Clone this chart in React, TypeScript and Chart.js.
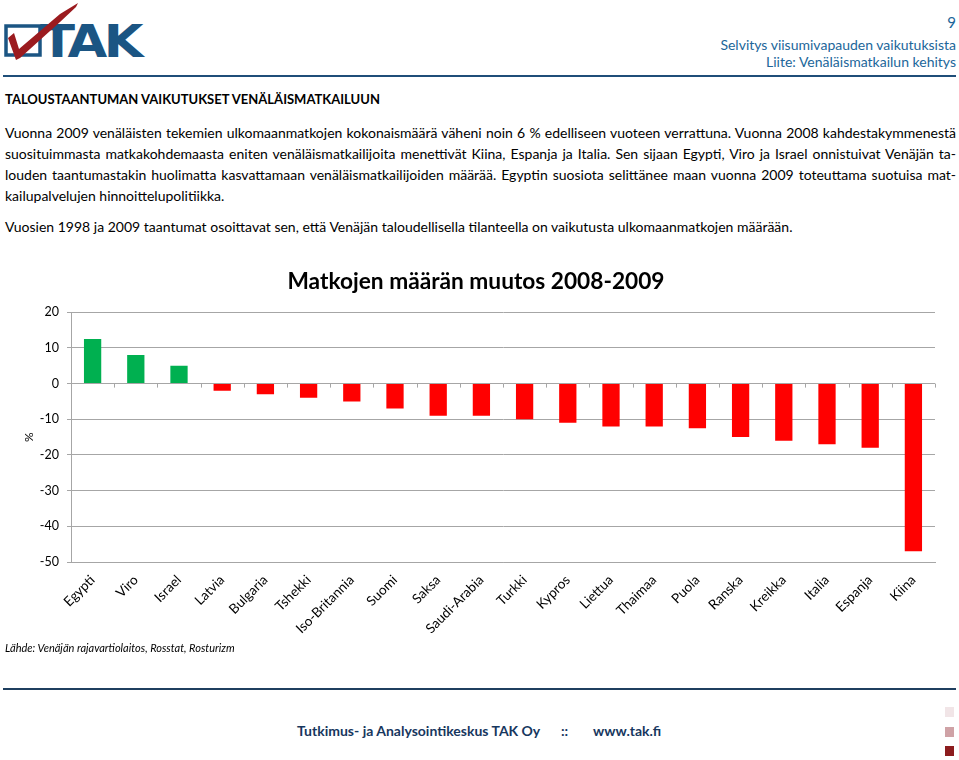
import React, { useEffect, useRef } from "react";
import { Chart, registerables } from "chart.js";

Chart.register(...registerables);

const categories = [
  "Egypti", "Viro", "Israel", "Latvia", "Bulgaria", "Tshekki", "Iso-Britannia",
  "Suomi", "Saksa", "Saudi-Arabia", "Turkki", "Kypros", "Liettua", "Thaimaa",
  "Puola", "Ranska", "Kreikka", "Italia", "Espanja", "Kiina",
];
const changes = [12.5, 8, 5, -2, -3, -4, -5, -7, -9, -9, -10, -11, -12, -12, -12.5, -15, -16, -17, -18, -47];
const yTicks = [20, 10, 0, -10, -20, -30, -40, -50];

const chartTitle = "Matkojen määrän muutos 2008-2009";
const yTitle = "%";

const bodyLines1 = [
  "Vuonna 2009 venäläisten tekemien ulkomaanmatkojen kokonaismäärä väheni noin 6 % edelliseen vuoteen verrattuna. Vuonna 2008 kahdestakymmenestä",
  "suosituimmasta matkakohdemaasta eniten venäläismatkailijoita menettivät Kiina, Espanja ja Italia. Sen sijaan Egypti, Viro ja Israel onnistuivat Venäjän ta-",
  "louden taantumastakin huolimatta kasvattamaan venäläismatkailijoiden määrää. Egyptin suosiota selittänee maan vuonna 2009 toteuttama suotuisa mat-",
];
const bodyLast1 = "kailupalvelujen hinnoittelupolitiikka.";
const body2 = "Vuosien 1998 ja 2009 taantumat osoittavat sen, että Venäjän taloudellisella tilanteella on vaikutusta ulkomaanmatkojen määrään.";

const FONT = "Lato, 'Open Sans', sans-serif";

const zeroTicksPlugin = {
  id: "zeroTicks",
  afterDatasetsDraw(chart: any) {
    const x = chart.scales.x;
    const y = chart.scales.y;
    const ctx = chart.ctx;
    const y0 = y.getPixelForValue(0);
    const n = chart.data.labels.length;
    const step = (x.right - x.left) / n;
    ctx.save();
    ctx.strokeStyle = "#a6a6a6";
    ctx.lineWidth = 1;
    ctx.beginPath();
    for (let i = 0; i <= n; i++) {
      const px = Math.round(x.left + i * step) + 0.5;
      ctx.moveTo(px, y0);
      ctx.lineTo(px, y0 + 4);
    }
    ctx.stroke();
    ctx.restore();
  },
};

function BarChart() {
  const ref = useRef<HTMLCanvasElement>(null);
  useEffect(() => {
    if (!ref.current) return;
    const chart = new Chart(ref.current, {
      type: "bar",
      data: {
        labels: categories,
        datasets: [
          {
            data: changes,
            backgroundColor: changes.map((v) => (v >= 0 ? "#00b050" : "#ff0000")),
            categoryPercentage: 1,
            barPercentage: 0.4,
          },
        ],
      },
      options: {
        animation: false,
        responsive: false,
        layout: { padding: { left: 0, right: 7, top: 0, bottom: 0 } },
        plugins: {
          legend: { display: false },
          tooltip: { enabled: false },
          title: {
            display: true,
            text: chartTitle,
            color: "#000",
            font: { family: FONT, size: 22.7, weight: "bold" },
            padding: { top: 18, bottom: 17 },
          },
        },
        scales: {
          x: {
            grid: { display: true, drawOnChartArea: false, drawTicks: false },
            border: { display: true, color: "#a6a6a6" },
            ticks: {
              color: "#000",
              font: { family: FONT, size: 13.5 },
              minRotation: 45,
              maxRotation: 45,
              padding: 10,
              autoSkip: false,
            },
            afterFit: (s: any) => {
              s.height = 78;
            },
          },
          y: {
            min: -50,
            max: 20,
            afterBuildTicks: (s: any) => {
              s.ticks = yTicks.map((v) => ({ value: v }));
            },
            grid: { color: "#a6a6a6", tickLength: 4 },
            border: { display: true, color: "#a6a6a6" },
            ticks: {
              color: "#000",
              font: { family: FONT, size: 12.5 },
              padding: 8,
            },
            title: {
              display: true,
              text: yTitle,
              color: "#000",
              font: { family: FONT, size: 12 },
              padding: { top: 22, bottom: 0 },
            },
            afterFit: (s: any) => {
              s.width = 71;
            },
          },
          ySpacer: {
            position: "right",
            min: -50,
            max: 20,
            grid: { display: false, drawTicks: false },
            border: { display: false },
            ticks: { display: false },
            afterFit: (s: any) => {
              s.width = 17;
            },
          },
        },
      },
      plugins: [zeroTicksPlugin],
    });
    return () => chart.destroy();
  }, []);
  return (
    <canvas
      ref={ref}
      width={959}
      height={390}
      style={{ position: "absolute", left: 0, top: 250, width: 959, height: 390 }}
    />
  );
}

function Logo() {
  return (
    <svg width={150} height={70} style={{ position: "absolute", left: 0, top: 0 }}>
      <rect x={6} y={26} width={34} height={29} fill="none" stroke="#1b5583" strokeWidth={3.5} />
      <text
        x={40}
        y={57}
        fill="#1b5583"
        fontFamily="'DejaVu Sans', sans-serif"
        fontWeight="bold"
        fontSize={44}
        letterSpacing={-3}
        textLength={100}
        lengthAdjust="spacingAndGlyphs"
      >
        TAK
      </text>
      <path d="M8 38 L14 33 L19 49 L60 14 L78 3 L76 7 L60 22 L20 58 L16 60 Z" fill="#9b1b1f" />
    </svg>
  );
}

export default function App() {
  const lineStyle: React.CSSProperties = {
    position: "absolute",
    left: 5,
    width: 951,
    whiteSpace: "nowrap",
    textAlign: "justify",
    textAlignLast: "justify" as any,
    fontSize: 14,
    lineHeight: "20px",
    fontFamily: FONT,
    color: "#000",
  };
  const hdr: React.CSSProperties = {
    position: "absolute",
    right: 3,
    fontSize: 14,
    lineHeight: "20px",
    color: "#21669a",
  };
  const foot: React.CSSProperties = {
    position: "absolute",
    top: 721,
    fontSize: 14,
    fontWeight: "bold",
    lineHeight: "20px",
    color: "#17375e",
  };
  return (
    <div
      style={{
        position: "absolute",
        left: 0,
        top: 0,
        width: 959,
        height: 760,
        background: "#fff",
        overflow: "hidden",
        fontFamily: FONT,
      }}
    >
      <Logo />
      <div style={{ ...hdr, top: 12, fontSize: 15 }}>9</div>
      <div style={{ ...hdr, top: 35 }}>Selvitys viisumivapauden vaikutuksista</div>
      <div style={{ ...hdr, top: 52 }}>Liite: Venäläismatkailun kehitys</div>
      <div style={{ position: "absolute", left: 3, top: 75, width: 953, height: 2, background: "#1f4e79" }} />
      <div style={{ position: "absolute", left: 5, top: 89, fontSize: 13, fontWeight: "bold", lineHeight: "20px" }}>
        TALOUSTAANTUMAN VAIKUTUKSET VENÄLÄISMATKAILUUN
      </div>
      {bodyLines1.map((l, i) => (
        <div key={i} style={{ ...lineStyle, top: 123 + i * 21 }}>
          {l}
        </div>
      ))}
      <div style={{ ...lineStyle, top: 123 + 3 * 21, textAlign: "left", textAlignLast: "left" as any }}>{bodyLast1}</div>
      <div style={{ ...lineStyle, top: 217, textAlign: "left", textAlignLast: "left" as any }}>{body2}</div>
      <BarChart />
      <div style={{ position: "absolute", left: 5, top: 639, fontSize: 11, fontStyle: "italic", lineHeight: "18px" }}>
        Lähde: Venäjän rajavartiolaitos, Rosstat, Rosturizm
      </div>
      <div style={{ position: "absolute", left: 3, top: 688, width: 953, height: 2, background: "#1f3f5f" }} />
      <div style={{ ...foot, left: 297 }}>Tutkimus- ja Analysointikeskus TAK Oy</div>
      <div style={{ ...foot, left: 561 }}>::</div>
      <div style={{ ...foot, left: 593 }}>www.tak.fi</div>
      <div style={{ position: "absolute", left: 945, top: 707, width: 9, height: 10, background: "#f1e5e7" }} />
      <div style={{ position: "absolute", left: 945, top: 727, width: 9, height: 10, background: "#cfa2a6" }} />
      <div style={{ position: "absolute", left: 945, top: 746, width: 9, height: 10, background: "#8c1c1e" }} />
    </div>
  );
}
